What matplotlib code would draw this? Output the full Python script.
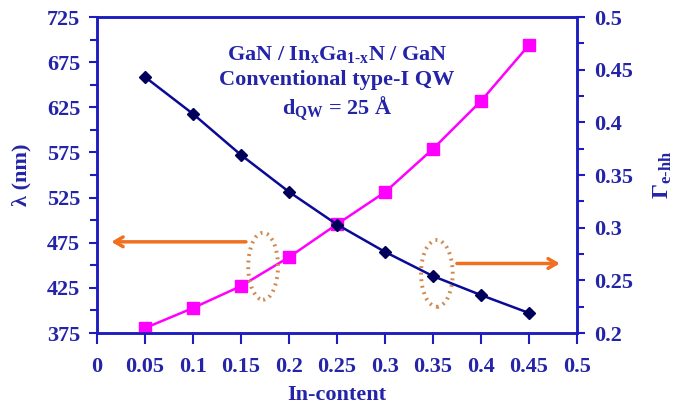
import matplotlib
matplotlib.use('Agg')
import matplotlib.pyplot as plt
from matplotlib.patches import Ellipse
from matplotlib.ticker import MultipleLocator

plt.rcParams['font.family'] = ['Liberation Serif', 'DejaVu Serif']
plt.rcParams['font.weight'] = 'bold'
plt.rcParams['mathtext.fontset'] = 'custom'
plt.rcParams['mathtext.rm'] = 'Liberation Serif:bold'
plt.rcParams['mathtext.it'] = 'Liberation Serif:bold'
plt.rcParams['mathtext.bf'] = 'Liberation Serif:bold'

# values
in_content = [0.05, 0.1, 0.15, 0.2, 0.25, 0.3, 0.35, 0.4, 0.45]
wavelength = [380.5, 402.7, 427, 459, 495.5, 531, 579, 632, 694]
gamma_ehh = [0.443, 0.408, 0.369, 0.334, 0.303, 0.277, 0.254, 0.236, 0.219]

x_ticks = [0, 0.05, 0.1, 0.15, 0.2, 0.25, 0.3, 0.35, 0.4, 0.45, 0.5]
x_labels = ['0', '0.05', '0.1', '0.15', '0.2', '0.25', '0.3', '0.35', '0.4', '0.45', '0.5']
left_ticks = [375, 425, 475, 525, 575, 625, 675, 725]
right_ticks = [0.2, 0.25, 0.3, 0.35, 0.4, 0.45, 0.5]
right_labels = ['0.2', '0.25', '0.3', '0.35', '0.4', '0.45', '0.5']

blue = '#2424A8'
axis_col = '#1C1CC0'
orange = '#F07020'
dotted = '#D08A50'
fs = 16

fig = plt.figure(figsize=(6.79, 4.07), dpi=100)
ax1 = fig.add_axes([0.1429, 0.1818, 0.7069, 0.7764])
ax2 = ax1.twinx()

ax1.plot(in_content, wavelength, color='#FF00FF', lw=1.8, marker='s',
         ms=8, mfc='#FF00FF', mec='#FF00FF', zorder=3)
ax2.plot(in_content, gamma_ehh, color='#0A0A96', lw=1.8, marker='D',
         ms=6.5, mfc='#00005A', mec='#00005A', zorder=3)

ax1.set_xlim(0, 0.5)
ax1.set_ylim(375, 725)
ax2.set_ylim(0.2, 0.5)

ax1.set_xticks(x_ticks)
ax1.set_xticklabels(x_labels)
ax1.set_yticks(left_ticks)
ax1.yaxis.set_minor_locator(MultipleLocator(25))
ax2.set_yticks(right_ticks)
ax2.set_yticklabels(right_labels)
ax2.yaxis.set_minor_locator(MultipleLocator(0.025))

for ax in (ax1, ax2):
    for s in ax.spines.values():
        s.set_color(axis_col)
        s.set_linewidth(1.8)
    ax.tick_params(which='major', color=axis_col, width=1.5, length=6,
                   labelcolor=blue, labelsize=fs, direction='out', pad=6)
    ax.tick_params(which='minor', color=axis_col, width=1.5, length=5,
                   direction='out')
ax1.tick_params(axis='x', length=8, pad=9)

ax1.set_xlabel('In-content', color=blue, fontsize=fs, fontweight='bold', labelpad=6)
ax1.set_ylabel('λ (nm)', color=blue, fontsize=fs, fontweight='bold', labelpad=11)
ax2.set_ylabel(r'$\Gamma_{\mathrm{e\text{-}hh}}$', color=blue, fontsize=17, labelpad=14)

ax1.text(0.25, 684, r'GaN / In$_{\mathrm{x}}$Ga$_{\mathrm{1\text{-}x}}$N / GaN',
         ha='center', va='center', color=blue, fontsize=fs, fontweight='bold')
ax1.text(0.25, 655, 'Conventional type-I QW', ha='center', va='center',
         color=blue, fontsize=fs, fontweight='bold')
ax1.text(0.25, 623, r'd$_{\mathrm{QW}}$ = 25 Å', ha='center', va='center',
         color=blue, fontsize=fs, fontweight='bold')

ax1.add_patch(Ellipse((0.173, 449), 0.031, 74, fill=False, ec=dotted,
                      lw=2.8, ls=(0, (0.5, 1.2)), zorder=4))
ax1.add_patch(Ellipse((0.354, 441), 0.033, 74, fill=False, ec=dotted,
                      lw=2.8, ls=(0, (0.5, 1.2)), zorder=4))

ax1.annotate('', xy=(0.012, 476), xytext=(0.158, 476),
             arrowprops=dict(arrowstyle='->,head_length=0.6,head_width=0.35',
                             color=orange, lw=2.5))
ax1.annotate('', xy=(0.485, 452), xytext=(0.372, 452),
             arrowprops=dict(arrowstyle='->,head_length=0.6,head_width=0.35',
                             color=orange, lw=2.5))

fig.savefig('out.png', dpi=100)
